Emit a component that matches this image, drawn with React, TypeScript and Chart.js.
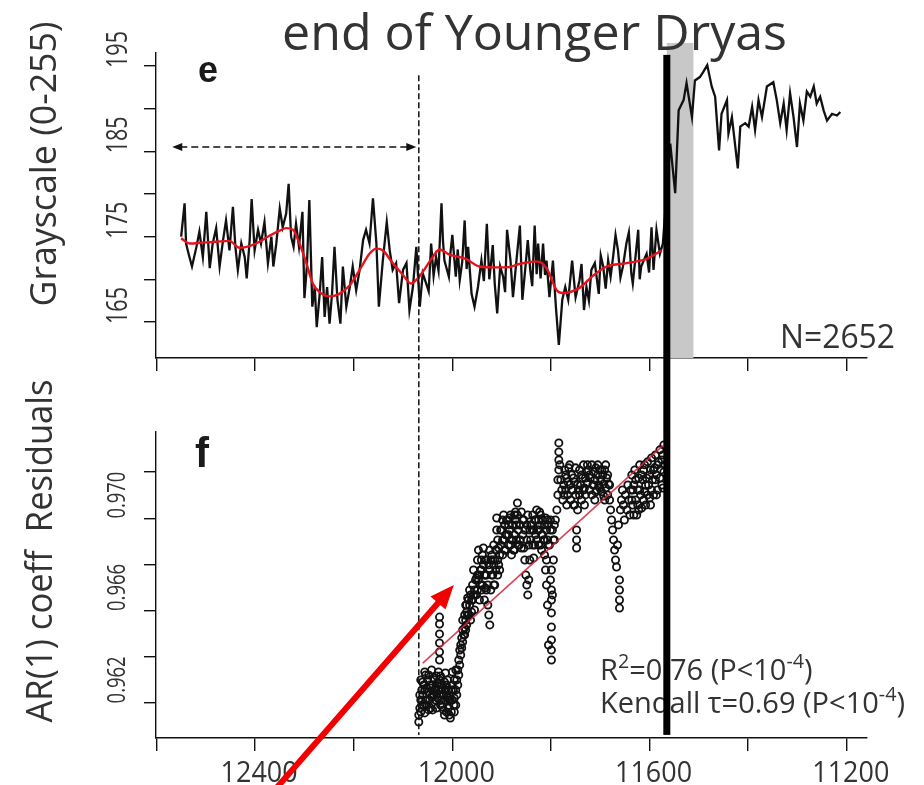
import { useEffect, useRef } from 'react';
import { Chart, registerables } from 'chart.js';

Chart.register(...registerables);

const WIDTH = 924;
const HEIGHT = 785;
const FONT = '"Open Sans", "DejaVu Sans", sans-serif';
const LETTER_FONT = '"Liberation Sans", Arial, sans-serif';
const INK = '#111111';
const TEXT = '#333333';
const RED = '#f20000';

// Shared time axis (years BP, younger to the right)
const YEAR_MIN = 11159;
const YEAR_MAX = 12601;
const YEAR_TICKS = [12600, 12400, 12200, 12000, 11800, 11600, 11400, 11200];
const YEAR_LABELS = [12400, 12000, 11600, 11200];

// Panel e axis
const GRAY_MIN = 160.78;
const GRAY_MAX = 196.52;
const GRAY_TICKS = [165, 170, 175, 180, 185, 190, 195];
const GRAY_LABELS = [165, 175, 185, 195];

// Panel f axis
const AR_MIN = 0.959485;
const AR_MAX = 0.972732;
const AR_TICKS = [0.961, 0.963, 0.965, 0.967, 0.969, 0.971];
const AR_LABELS = [0.962, 0.966, 0.97];

// Grayscale record [year BP, grayscale]
const grayscale: [number, number][] = [
  [12550, 175.0], [12543, 178.9], [12540, 174.2], [12534, 172.8], [12528, 171.5], [12519, 173.8],
  [12513, 175.6], [12506, 172.6], [12499, 177.9], [12492, 171.3], [12486, 174.2], [12479, 176.0],
  [12472, 171.5], [12465, 174.6], [12459, 176.9], [12452, 173.4], [12445, 178.5], [12440, 173.8],
  [12435, 171.1], [12428, 174.2], [12421, 172.6], [12417, 170.1], [12411, 174.6], [12407, 179.4],
  [12401, 173.4], [12394, 175.8], [12388, 174.2], [12381, 176.7], [12374, 171.9], [12367, 175.0],
  [12363, 171.5], [12357, 174.2], [12350, 178.3], [12344, 176.1], [12337, 177.7], [12332, 181.2],
  [12327, 175.0], [12322, 173.8], [12317, 176.5], [12311, 173.8], [12304, 177.9], [12300, 167.8],
  [12295, 171.5], [12290, 179.3], [12284, 166.8], [12279, 169.1], [12275, 164.4], [12269, 168.3],
  [12264, 172.6], [12259, 165.6], [12254, 169.1], [12249, 164.8], [12244, 168.3], [12239, 173.8],
  [12233, 167.6], [12227, 164.8], [12222, 171.5], [12215, 166.8], [12208, 169.1], [12202, 171.5],
  [12195, 168.7], [12188, 171.1], [12181, 174.6], [12175, 175.8], [12168, 174.2], [12161, 179.5],
  [12154, 174.2], [12149, 166.8], [12141, 172.2], [12133, 176.7], [12127, 173.4], [12121, 171.1],
  [12114, 171.9], [12108, 167.2], [12100, 171.1], [12093, 171.9], [12087, 166.4], [12080, 169.1],
  [12073, 173.8], [12066, 166.8], [12060, 170.7], [12053, 169.5], [12048, 168.6], [12043, 174.2],
  [12038, 170.4], [12033, 172.6], [12028, 171.0], [12022, 178.9], [12019, 174.5], [12016, 172.2],
  [12007, 170.3], [12004, 173.0], [12000, 175.2], [11993, 170.3], [11989, 173.5], [11985, 169.9],
  [11980, 172.0], [11975, 176.9], [11971, 171.2], [11968, 173.8], [11961, 168.3], [11955, 166.8],
  [11948, 169.1], [11941, 172.2], [11936, 169.8], [11930, 176.5], [11925, 170.0], [11921, 172.2],
  [11918, 174.0], [11914, 169.5], [11909, 166.0], [11903, 171.5], [11897, 170.3], [11893, 168.5],
  [11889, 175.8], [11882, 172.2], [11877, 167.9], [11870, 172.2], [11863, 176.3], [11858, 167.6],
  [11851, 171.9], [11847, 174.6], [11842, 171.1], [11838, 169.2], [11833, 176.3], [11829, 170.6],
  [11826, 174.2], [11821, 170.1], [11816, 174.2], [11812, 170.5], [11809, 172.2], [11803, 167.9],
  [11796, 172.2], [11790, 166.8], [11784, 162.3], [11777, 167.6], [11771, 169.1], [11765, 167.6],
  [11757, 172.2], [11750, 167.9], [11742, 169.9], [11738, 171.8], [11733, 166.4], [11728, 169.1],
  [11723, 167.5], [11718, 171.1], [11711, 171.9], [11703, 168.3], [11699, 172.8], [11694, 171.5],
  [11689, 168.9], [11684, 172.2], [11679, 170.3], [11674, 172.6], [11669, 175.2], [11664, 173.4],
  [11659, 170.2], [11654, 171.5], [11647, 174.2], [11642, 175.5], [11637, 170.7], [11634, 169.5],
  [11623, 175.8], [11620, 170.0], [11617, 171.5], [11606, 173.0], [11601, 170.8], [11596, 176.1],
  [11592, 171.1], [11586, 175.8], [11579, 173.0], [11573, 174.2], [11558, 185.9], [11548, 180.1],
  [11541, 189.8], [11531, 191.0], [11525, 193.0], [11514, 189.0], [11508, 193.3], [11498, 193.7],
  [11491, 194.3], [11483, 195.1], [11474, 192.6], [11467, 191.4], [11459, 185.1], [11454, 189.4],
  [11443, 191.0], [11440, 187.1], [11433, 189.0], [11421, 183.0], [11416, 187.9], [11406, 188.3],
  [11399, 187.9], [11392, 190.2], [11386, 187.5], [11379, 191.0], [11372, 189.0], [11362, 192.6],
  [11349, 193.1], [11342, 191.0], [11335, 188.3], [11328, 190.6], [11322, 187.5], [11315, 191.8],
  [11308, 189.0], [11301, 185.5], [11295, 190.6], [11288, 188.6], [11281, 192.0], [11274, 191.4],
  [11267, 192.6], [11261, 190.6], [11254, 191.4], [11247, 189.8], [11240, 188.6], [11230, 189.4],
  [11220, 189.2], [11213, 189.6],
];

// Smoothed grayscale trend before the transition
const grayscaleTrend: [number, number][] = [
  [12550, 174.8], [12533, 174.2], [12506, 174.3], [12479, 174.4], [12452, 174.5], [12432, 173.7],
  [12411, 173.9], [12391, 174.4], [12371, 175.1], [12350, 175.7], [12337, 176.0], [12323, 175.8],
  [12310, 174.2], [12296, 171.9], [12283, 169.5], [12269, 168.5], [12249, 168.0], [12229, 168.3],
  [12208, 169.3], [12188, 171.1], [12168, 173.0], [12154, 173.6], [12141, 173.4], [12121, 171.9],
  [12100, 170.5], [12084, 169.5], [12066, 170.4], [12040, 172.6], [12026, 173.5], [12006, 172.9],
  [11973, 172.4], [11945, 171.5], [11918, 171.4], [11890, 171.4], [11864, 171.8], [11829, 172.1],
  [11809, 171.3], [11788, 168.7], [11776, 168.4], [11742, 169.0], [11715, 170.4], [11687, 171.5],
  [11646, 171.9], [11606, 172.4], [11575, 173.4],
];

// AR(1) coefficient of residuals [year BP, coefficient]
const arResiduals: [number, number][] = [
  [12068, 0.96048], [12068, 0.96018], [12066, 0.96078], [12064, 0.96113], [12062, 0.96156], [12060, 0.96135],
  [12058, 0.96091], [12056, 0.96057], [12054, 0.96113], [12052, 0.96165], [12050, 0.962], [12048, 0.96148],
  [12046, 0.96113], [12044, 0.96078], [12042, 0.96126], [12040, 0.96178], [12038, 0.96208], [12036, 0.96156],
  [12034, 0.96113], [12032, 0.96139], [12030, 0.96187], [12028, 0.96234], [12026, 0.962], [12026, 0.96286],
  [12026, 0.96321], [12026, 0.9636], [12026, 0.96399], [12026, 0.96442], [12026, 0.96472], [12024, 0.96156],
  [12022, 0.96113], [12020, 0.96083], [12018, 0.96135], [12016, 0.96191], [12014, 0.9623], [12012, 0.96178],
  [12010, 0.96126], [12008, 0.96078], [12006, 0.96048], [12004, 0.96035], [12002, 0.96061], [12000, 0.96113],
  [11998, 0.96156], [11996, 0.96121], [11993, 0.96091],
  [12064, 0.96061], [12060, 0.96191], [12056, 0.96156], [12052, 0.96091], [12048, 0.96221], [12044, 0.96165],
  [12040, 0.9607], [12036, 0.962], [12032, 0.96078], [12028, 0.96156], [12024, 0.96217], [12020, 0.96165],
  [12016, 0.96113], [12012, 0.96061], [12008, 0.96156], [12004, 0.96113], [12000, 0.96178], [11996, 0.96061],
  [12066, 0.96135], [12062, 0.96091], [12058, 0.96178], [12054, 0.96221], [12050, 0.96113], [12046, 0.96178],
  [12042, 0.96243], [12038, 0.96135], [12034, 0.96165], [12030, 0.96121], [12026, 0.96113], [12022, 0.96178],
  [12018, 0.9607], [12014, 0.96156], [12010, 0.962], [12006, 0.96113], [12002, 0.96156], [11997, 0.96091],
  [12064, 0.962], [12056, 0.96234], [12048, 0.9607], [12040, 0.96135], [12032, 0.96217], [12024, 0.96091],
  [12016, 0.96048], [12008, 0.96121], [12000, 0.96234], [12012, 0.96135],
  [11991, 0.96135], [11989, 0.96178], [11987, 0.96221], [11985, 0.96264], [11983, 0.96308], [11981, 0.96338],
  [11979, 0.96364], [11977, 0.96395], [11975, 0.96425], [11973, 0.96459], [11971, 0.96494],
  [11993, 0.96156], [11991, 0.962], [11989, 0.96243], [11987, 0.96286], [11985, 0.96329], [11983, 0.96351],
  [11981, 0.96382], [11979, 0.96416], [11996, 0.962], [11993, 0.96243],
  [11975, 0.96395], [11973, 0.96524], [11971, 0.96438], [11969, 0.96555], [11967, 0.96481], [11965, 0.96589],
  [11963, 0.96459], [11961, 0.96546], [11959, 0.96611], [11957, 0.96676], [11955, 0.96503], [11953, 0.96568],
  [11951, 0.96641], [11949, 0.96719], [11947, 0.96762], [11945, 0.96546], [11943, 0.96611], [11941, 0.96676],
  [11939, 0.96741], [11937, 0.96771], [11935, 0.96546], [11933, 0.96598], [11931, 0.96654], [11931, 0.96719],
  [11928, 0.96524], [11926, 0.96481], [11924, 0.96438], [11922, 0.96589], [11920, 0.96654], [11918, 0.96719],
  [11916, 0.96784], [11914, 0.96611], [11912, 0.96676], [11910, 0.96901], [11910, 0.96849], [11908, 0.96719],
  [11906, 0.96771], [11904, 0.96676],
  [11973, 0.96416], [11969, 0.96481], [11965, 0.96524], [11961, 0.96494], [11957, 0.96568], [11953, 0.96633],
  [11949, 0.96589], [11945, 0.96654], [11941, 0.96589], [11937, 0.96698], [11933, 0.96654], [11928, 0.96611],
  [11924, 0.96676], [11920, 0.96741], [11916, 0.96698], [11912, 0.96762], [11908, 0.96806], [11904, 0.96741],
  [11979, 0.96459], [11975, 0.96481], [11971, 0.96524], [11967, 0.96546], [11963, 0.96568], [11959, 0.96546],
  [11955, 0.96589], [11951, 0.96568], [11947, 0.96633], [11943, 0.96676], [11939, 0.96611], [11935, 0.96654],
  [11931, 0.96589], [11926, 0.96698], [11922, 0.96719], [11918, 0.96654], [11914, 0.96719], [11910, 0.96762],
  [11906, 0.96698], [11949, 0.96654], [11941, 0.96719], [11933, 0.96719], [11924, 0.96762], [11916, 0.96611],
  [11908, 0.96654],
  [11902, 0.96784], [11900, 0.96849], [11898, 0.96741], [11896, 0.96806], [11894, 0.96871], [11892, 0.96762],
  [11890, 0.96828], [11888, 0.96892], [11886, 0.96784], [11884, 0.96849], [11882, 0.96914], [11880, 0.96806],
  [11878, 0.96871], [11876, 0.96762], [11874, 0.96828], [11872, 0.96892], [11870, 0.96806], [11868, 0.96966],
  [11868, 0.96914], [11866, 0.96849], [11864, 0.96784], [11862, 0.96871], [11860, 0.96927], [11857, 0.96828],
  [11855, 0.96771], [11853, 0.96719], [11851, 0.96654], [11849, 0.96611], [11847, 0.96568], [11845, 0.96633],
  [11843, 0.96719], [11841, 0.96806], [11839, 0.96871], [11837, 0.96914], [11835, 0.96849], [11833, 0.96784],
  [11831, 0.96892], [11829, 0.96936], [11827, 0.96849], [11825, 0.96784], [11823, 0.96871], [11821, 0.96914],
  [11819, 0.96828], [11817, 0.96892], [11815, 0.96806], [11813, 0.96741], [11811, 0.96676], [11809, 0.96719],
  [11807, 0.96806], [11805, 0.96871], [11803, 0.96784], [11801, 0.96633], [11799, 0.96676], [11799, 0.96589],
  [11799, 0.96546], [11799, 0.9649], [11799, 0.96429], [11799, 0.96373], [11799, 0.96329], [11799, 0.96286],
  [11797, 0.96568], [11795, 0.96719], [11793, 0.96806], [11791, 0.96892],
  [11809, 0.96611], [11807, 0.96524], [11805, 0.96351],
  [11898, 0.96892], [11892, 0.96828], [11886, 0.96871], [11880, 0.96741], [11874, 0.96914], [11864, 0.96871],
  [11855, 0.96892], [11849, 0.96806], [11843, 0.96849], [11837, 0.96784], [11831, 0.96828], [11825, 0.96892],
  [11819, 0.96762], [11813, 0.96871], [11807, 0.96892], [11801, 0.96849], [11795, 0.96806],
  [11902, 0.96849], [11898, 0.96806], [11894, 0.96762], [11890, 0.96892], [11886, 0.96828], [11882, 0.96784],
  [11878, 0.96806], [11874, 0.96762], [11870, 0.96871], [11866, 0.96784], [11862, 0.96806], [11857, 0.96892],
  [11853, 0.96849], [11849, 0.96871], [11845, 0.96784], [11841, 0.96871], [11837, 0.96849], [11833, 0.96892],
  [11829, 0.96806], [11825, 0.96849], [11821, 0.96784], [11817, 0.96828], [11813, 0.96806], [11809, 0.96849],
  [11805, 0.96784], [11801, 0.96892], [11797, 0.96849], [11793, 0.96871], [11896, 0.96914], [11884, 0.96901],
  [11872, 0.96927], [11860, 0.96771], [11847, 0.96914], [11835, 0.96728], [11823, 0.96927], [11811, 0.96901],
  [11788, 0.96936], [11786, 0.97001], [11786, 0.97066], [11784, 0.97109], [11784, 0.97152], [11784, 0.97187],
  [11784, 0.97226], [11782, 0.97131], [11780, 0.97066], [11778, 0.97022],
  [11776, 0.96979], [11774, 0.97044], [11772, 0.97109], [11770, 0.97022], [11768, 0.97074], [11766, 0.97001],
  [11764, 0.97118], [11762, 0.97044], [11760, 0.96979], [11758, 0.97087], [11756, 0.97022], [11754, 0.96957],
  [11752, 0.97057], [11750, 0.97001], [11748, 0.96849], [11748, 0.96806], [11748, 0.96771], [11746, 0.96936],
  [11744, 0.97022], [11742, 0.97109], [11740, 0.97044], [11738, 0.96979], [11736, 0.97074], [11734, 0.97131],
  [11732, 0.97031], [11730, 0.97001], [11728, 0.971], [11726, 0.97053], [11724, 0.97109], [11722, 0.97022],
  [11720, 0.97074], [11717, 0.97131], [11715, 0.97044], [11713, 0.971], [11711, 0.97066], [11709, 0.97118],
  [11707, 0.97022], [11705, 0.97087], [11703, 0.97044], [11701, 0.97109], [11699, 0.97066], [11697, 0.97014],
  [11695, 0.97087], [11693, 0.97048], [11691, 0.97109], [11689, 0.97031], [11687, 0.97074], [11685, 0.97001],
  [11683, 0.97048], [11681, 0.96979],
  [11774, 0.97001], [11770, 0.97087], [11766, 0.97057], [11762, 0.97131], [11758, 0.97022], [11754, 0.97074],
  [11750, 0.97118], [11746, 0.97044], [11742, 0.97001], [11738, 0.97087], [11734, 0.97022], [11730, 0.97074],
  [11726, 0.97131], [11722, 0.97087], [11717, 0.97001], [11713, 0.97044], [11709, 0.97014], [11705, 0.97131],
  [11701, 0.97031], [11697, 0.97109], [11693, 0.96996], [11689, 0.97131], [11685, 0.97087], [11681, 0.97044],
  [11768, 0.96957], [11752, 0.96957], [11732, 0.96957], [11711, 0.96979], [11691, 0.96979],
  [11679, 0.96936], [11677, 0.96892], [11675, 0.96849], [11673, 0.96806], [11671, 0.96762], [11669, 0.96719],
  [11667, 0.96689], [11665, 0.96784], [11663, 0.96871], [11661, 0.96633], [11661, 0.96589], [11661, 0.96546],
  [11661, 0.96511], [11659, 0.96936], [11657, 0.96979], [11655, 0.97022], [11653, 0.96957], [11651, 0.96892],
  [11649, 0.97001], [11646, 0.96936], [11644, 0.97044], [11642, 0.96979], [11640, 0.96914],
  [11638, 0.97022], [11636, 0.97087], [11634, 0.96957], [11632, 0.97044], [11630, 0.97109], [11628, 0.96979],
  [11626, 0.96914], [11624, 0.97022], [11622, 0.97074], [11620, 0.97131], [11618, 0.97001], [11616, 0.96944],
  [11614, 0.97066], [11612, 0.97109], [11610, 0.97014], [11608, 0.96957], [11606, 0.97074], [11604, 0.97144],
  [11602, 0.97044], [11600, 0.96988], [11598, 0.97109], [11596, 0.97161], [11594, 0.97066], [11592, 0.97001],
  [11590, 0.97118], [11588, 0.97174], [11586, 0.97087], [11584, 0.97022], [11582, 0.97144], [11579, 0.97196],
  [11577, 0.97109], [11575, 0.97044], [11573, 0.97174], [11571, 0.97217], [11569, 0.97131],
  [11636, 0.96979], [11632, 0.96914], [11628, 0.97066], [11624, 0.96957], [11620, 0.97022], [11616, 0.97087],
  [11612, 0.96979], [11608, 0.97044], [11604, 0.97001], [11600, 0.97087], [11596, 0.97022], [11592, 0.97109],
  [11588, 0.97066], [11584, 0.97131], [11579, 0.97074], [11575, 0.97152], [11571, 0.971], [11634, 0.97022],
  [11622, 0.96936], [11610, 0.97131], [11598, 0.96957], [11586, 0.97001], [11573, 0.97031],
];

// Linear fit through the AR(1) coefficients
const arFit: [number, number][] = [
  [12060, 0.96273],
  [11573, 0.97214],
];

// Annotations
const YD_END_YEAR = 11565;
const YD_BAND_YEARS: [number, number] = [11565, 11511];
const YD_BAND_TOP = 197.7;
const THICK_TOP = 196.3;
const TRANSITION_YEAR = 12068;
const DASH_TOP = 193.9;
const MARKER_FOOT = 0.95962;
const WINDOW_ARROW = { from: 12568, to: 12073, level: 185.5 };
const POINTER_TAIL: [number, number] = [12369, 0.95702];
const POINTER_TIP: [number, number] = [11997, 0.96611];
const N_OBS = 2652;
const R2 = '0.76';
const TAU = '0.69';

type TextOpts = {
  size: number;
  weight?: string;
  family?: string;
  align?: 'left' | 'center' | 'right';
  rotate?: number;
  width?: number;
  color?: string;
};

function drawText(ctx: CanvasRenderingContext2D, text: string, x: number, y: number, o: TextOpts) {
  ctx.save();
  ctx.font = `${o.weight ?? 'normal'} ${o.size}px ${o.family ?? FONT}`;
  ctx.fillStyle = o.color ?? TEXT;
  ctx.textAlign = 'left';
  ctx.textBaseline = 'alphabetic';
  ctx.translate(x, y);
  if (o.rotate) ctx.rotate(o.rotate);
  const w = ctx.measureText(text).width;
  const sx = o.width ? o.width / w : 1;
  ctx.scale(sx, 1);
  const align = o.align ?? 'left';
  const dx = align === 'center' ? -w / 2 : align === 'right' ? -w : 0;
  ctx.fillText(text, dx, 0);
  ctx.restore();
}

function drawRich(ctx: CanvasRenderingContext2D, parts: { t: string; sup?: boolean }[], x: number, y: number, size: number) {
  ctx.save();
  ctx.fillStyle = TEXT;
  ctx.textBaseline = 'alphabetic';
  ctx.textAlign = 'left';
  let cx = x;
  for (const p of parts) {
    const s = p.sup ? size * 0.68 : size;
    ctx.font = `${s}px ${FONT}`;
    ctx.fillText(p.t, cx, p.sup ? y - size * 0.42 : y);
    cx += ctx.measureText(p.t).width;
  }
  ctx.restore();
}

function timeAxis(axisHeight: number) {
  return {
    type: 'linear',
    min: YEAR_MIN,
    max: YEAR_MAX,
    reverse: true,
    afterBuildTicks: (s: any) => {
      s.ticks = YEAR_TICKS.map((value) => ({ value }));
    },
    afterFit: (s: any) => {
      s.height = axisHeight;
    },
    ticks: { display: false },
    grid: { drawOnChartArea: false, drawTicks: true, tickLength: 13, color: INK, lineWidth: 1.4 },
    border: { display: true, color: INK, width: 1.4 },
  };
}

function valueAxis(min: number, max: number, ticks: number[]) {
  return {
    type: 'linear',
    min,
    max,
    afterBuildTicks: (s: any) => {
      s.ticks = ticks.map((value) => ({ value }));
    },
    afterFit: (s: any) => {
      s.width = 40;
    },
    ticks: { display: false },
    grid: { drawOnChartArea: false, drawTicks: true, tickLength: 12, color: INK, lineWidth: 1.4 },
    border: { display: true, color: INK, width: 1.4 },
  };
}

const panelE = {
  id: 'panelE',
  beforeDatasetsDraw(chart: any) {
    const { ctx, chartArea } = chart;
    const { x, y } = chart.scales;
    const x0 = x.getPixelForValue(YD_BAND_YEARS[0]);
    const x1 = x.getPixelForValue(YD_BAND_YEARS[1]);
    const yTop = y.getPixelForValue(YD_BAND_TOP);
    ctx.save();
    ctx.fillStyle = '#c8c8c8';
    ctx.fillRect(Math.min(x0, x1), yTop, Math.abs(x1 - x0), chartArea.bottom - yTop);
    ctx.restore();
  },
  afterDraw(chart: any) {
    const { ctx } = chart;
    const { x, y } = chart.scales;
    for (const v of GRAY_LABELS) {
      drawText(ctx, String(v), 127, y.getPixelForValue(v) - 16.5, {
        size: 30,
        rotate: -Math.PI / 2,
        align: 'center',
        width: 37,
      });
    }
    drawText(ctx, 'Grayscale (0-255)', 56, 164, { size: 36, rotate: -Math.PI / 2, align: 'center', width: 285 });
    drawText(ctx, 'e', 198, 82, { size: 36, weight: 'bold', family: LETTER_FONT, color: '#1a1a1a' });
    drawText(ctx, `N=${N_OBS}`, 780, 348, { size: 32, width: 115 });

    // window arrow (dashed, two heads)
    const xa = x.getPixelForValue(WINDOW_ARROW.from);
    const xb = x.getPixelForValue(WINDOW_ARROW.to);
    const ya = y.getPixelForValue(WINDOW_ARROW.level);
    const head = 10;
    ctx.save();
    ctx.strokeStyle = INK;
    ctx.fillStyle = INK;
    ctx.lineWidth = 1.5;
    ctx.setLineDash([7, 4]);
    ctx.beginPath();
    ctx.moveTo(xa + head - 2, ya);
    ctx.lineTo(xb - head + 2, ya);
    ctx.stroke();
    ctx.setLineDash([]);
    ctx.beginPath();
    ctx.moveTo(xa, ya);
    ctx.lineTo(xa + head, ya - 4);
    ctx.lineTo(xa + head, ya + 4);
    ctx.closePath();
    ctx.fill();
    ctx.beginPath();
    ctx.moveTo(xb, ya);
    ctx.lineTo(xb - head, ya - 4);
    ctx.lineTo(xb - head, ya + 4);
    ctx.closePath();
    ctx.fill();
    ctx.restore();
  },
};

function makePanelF(linked: { top: any }) {
  return {
    id: 'panelF',
    afterDraw(chart: any) {
      const { ctx } = chart;
      const { x, y } = chart.scales;
      const topY = linked.top ? linked.top.scales.y : null;

      for (const v of AR_LABELS) {
        drawText(ctx, v.toFixed(3), 125, y.getPixelForValue(v), {
          size: 26,
          rotate: -Math.PI / 2,
          align: 'center',
          width: 47,
        });
      }
      for (const v of YEAR_LABELS) {
        drawText(ctx, String(v), x.getPixelForValue(v) + 4, 782, { size: 30, align: 'center', width: 77 });
      }
      drawText(ctx, 'AR(1) coeff  Residuals', 52, 551, { size: 37, rotate: -Math.PI / 2, align: 'center', width: 343 });
      drawText(ctx, 'f', 195, 467, { size: 42, weight: 'bold', family: LETTER_FONT, color: '#1a1a1a' });

      drawRich(ctx, [{ t: 'R' }, { t: '2', sup: true }, { t: `=${R2} (P<10` }, { t: '-4', sup: true }, { t: ')' }], 600, 680, 29);
      drawRich(ctx, [{ t: `Kendall \u03c4=${TAU} (P<10` }, { t: '-4', sup: true }, { t: ')' }], 600, 713, 29);

      const foot = y.getPixelForValue(MARKER_FOOT);

      // transition onset (dashed, spans both panels)
      const xd = x.getPixelForValue(TRANSITION_YEAR);
      const dashTop = topY ? topY.getPixelForValue(DASH_TOP) : 75;
      ctx.save();
      ctx.strokeStyle = INK;
      ctx.lineWidth = 1.5;
      ctx.setLineDash([6, 3]);
      ctx.beginPath();
      ctx.moveTo(xd, dashTop);
      ctx.lineTo(xd, foot);
      ctx.stroke();
      ctx.restore();

      // end of the Younger Dryas (thick line, spans both panels)
      const xe = x.getPixelForValue(YD_END_YEAR);
      const thickTop = topY ? topY.getPixelForValue(THICK_TOP) : 55;
      ctx.save();
      ctx.fillStyle = '#000';
      ctx.fillRect(xe - 3.5, thickTop, 7, foot - thickTop);
      ctx.restore();

      drawText(ctx, 'end of Younger Dryas', 282, 50, { size: 50, width: 505 });

      // red pointer
      const tx = x.getPixelForValue(POINTER_TAIL[0]);
      const ty = y.getPixelForValue(POINTER_TAIL[1]);
      const hx = x.getPixelForValue(POINTER_TIP[0]);
      const hy = y.getPixelForValue(POINTER_TIP[1]);
      const ang = Math.atan2(hy - ty, hx - tx);
      const headLen = 24;
      const headHalf = 10;
      const bx = hx - headLen * Math.cos(ang);
      const by = hy - headLen * Math.sin(ang);
      ctx.save();
      ctx.strokeStyle = RED;
      ctx.fillStyle = RED;
      ctx.lineWidth = 6;
      ctx.beginPath();
      ctx.moveTo(tx, ty);
      ctx.lineTo(bx + 2 * Math.cos(ang), by + 2 * Math.sin(ang));
      ctx.stroke();
      ctx.beginPath();
      ctx.moveTo(hx, hy);
      ctx.lineTo(bx + headHalf * Math.sin(ang), by - headHalf * Math.cos(ang));
      ctx.lineTo(bx - headHalf * Math.sin(ang), by + headHalf * Math.cos(ang));
      ctx.closePath();
      ctx.fill();
      ctx.restore();
    },
  };
}

export default function App() {
  const topRef = useRef<HTMLCanvasElement>(null);
  const bottomRef = useRef<HTMLCanvasElement>(null);

  useEffect(() => {
    const linked: { top: any } = { top: null };

    const top = new Chart(topRef.current as HTMLCanvasElement, {
      type: 'line',
      data: {
        datasets: [
          {
            label: 'trend',
            data: grayscaleTrend.map(([x, y]) => ({ x, y })),
            borderColor: '#e8121c',
            borderWidth: 2.4,
            pointRadius: 0,
            cubicInterpolationMode: 'monotone',
            order: 0,
          },
          {
            label: 'grayscale',
            data: grayscale.map(([x, y]) => ({ x, y })),
            borderColor: INK,
            borderWidth: 2.3,
            pointRadius: 0,
            tension: 0,
            order: 1,
          },
        ],
      },
      options: {
        animation: false,
        responsive: false,
        maintainAspectRatio: false,
        events: [],
        layout: { autoPadding: false, padding: { left: 116, top: 53, right: 57, bottom: 0 } },
        plugins: { legend: { display: false }, tooltip: { enabled: false }, title: { display: false } },
        scales: {
          x: timeAxis(HEIGHT - 358),
          y: valueAxis(GRAY_MIN, GRAY_MAX, GRAY_TICKS),
        },
      } as any,
      plugins: [panelE],
    });
    linked.top = top;

    const bottom = new Chart(bottomRef.current as HTMLCanvasElement, {
      type: 'scatter',
      data: {
        datasets: [
          {
            label: 'fit',
            data: arFit.map(([x, y]) => ({ x, y })),
            showLine: true,
            borderColor: 'rgba(212, 36, 56, 0.85)',
            borderWidth: 1.6,
            pointRadius: 0,
            order: 0,
          },
          {
            label: 'AR(1)',
            data: arResiduals.map(([x, y]) => ({ x, y })),
            showLine: false,
            pointRadius: 3.6,
            pointBorderWidth: 1.8,
            borderWidth: 1.8,
            pointBorderColor: INK,
            borderColor: INK,
            pointBackgroundColor: 'rgba(0,0,0,0)',
            backgroundColor: 'rgba(0,0,0,0)',
            order: 1,
          },
        ],
      },
      options: {
        animation: false,
        responsive: false,
        maintainAspectRatio: false,
        events: [],
        layout: { autoPadding: false, padding: { left: 116, top: 432, right: 57, bottom: 0 } },
        plugins: { legend: { display: false }, tooltip: { enabled: false }, title: { display: false } },
        scales: {
          x: timeAxis(HEIGHT - 738),
          y: valueAxis(AR_MIN, AR_MAX, AR_TICKS),
        },
      } as any,
      plugins: [makePanelF(linked)],
    });

    return () => {
      bottom.destroy();
      top.destroy();
    };
  }, []);

  return (
    <div style={{ position: 'absolute', left: 0, top: 0, width: WIDTH, height: HEIGHT, background: '#ffffff' }}>
      <canvas ref={topRef} width={WIDTH} height={HEIGHT} style={{ position: 'absolute', left: 0, top: 0 }} />
      <canvas ref={bottomRef} width={WIDTH} height={HEIGHT} style={{ position: 'absolute', left: 0, top: 0 }} />
    </div>
  );
}
